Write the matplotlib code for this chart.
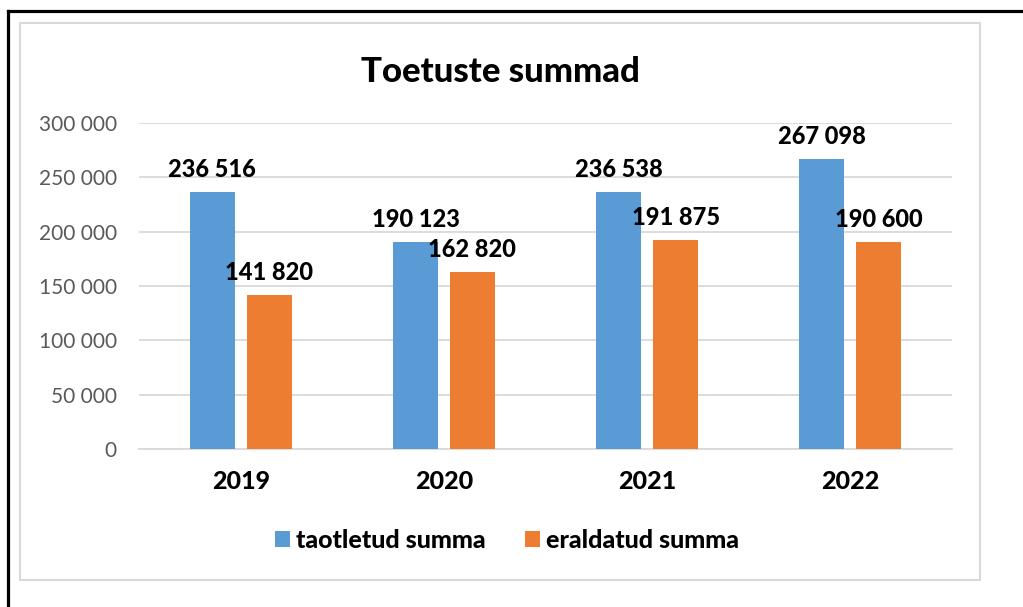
import numpy as np
import matplotlib
matplotlib.use("Agg")
import matplotlib.pyplot as plt
from matplotlib.lines import Line2D
from matplotlib.patches import Rectangle
from matplotlib.ticker import FuncFormatter

years = ["2019", "2020", "2021", "2022"]
requested = [236516, 190123, 236538, 267098]
granted = [141820, 162820, 191875, 190600]
series_names = ["taotletud summa", "eraldatud summa"]
title = "Toetuste summad"

BLUE = "#5B9BD5"
ORANGE = "#ED7D31"
GRID = "#D9D9D9"
HEAVY = "black"

plt.rcParams["font.family"] = ["Lato", "DejaVu Sans"]


def space_fmt(v, _pos=None):
    return f"{int(round(v)):,}".replace(",", " ")


fig = plt.figure(figsize=(10.23, 6.07), dpi=100)
ax = fig.add_axes([0.1359, 0.2603, 0.7947, 0.5371])

x = np.arange(len(years))
width = 0.221
gap = 0.059
off = (width + gap) / 2

b1 = ax.bar(x - off, requested, width, color=BLUE, label=series_names[0], zorder=3)
b2 = ax.bar(x + off, granted, width, color=ORANGE, label=series_names[1], zorder=3)

for bars in (b1, b2):
    for rect in bars:
        h = rect.get_height()
        ax.annotate(space_fmt(h), (rect.get_x() + rect.get_width() / 2, h),
                    xytext=(0, 8), textcoords="offset points",
                    ha="center", va="bottom", fontsize=17, fontweight=HEAVY)

ax.set_xlim(-0.5, len(years) - 0.5)
ax.set_ylim(0, 300000)
ax.set_yticks(np.arange(0, 300001, 50000))
ax.yaxis.set_major_formatter(FuncFormatter(space_fmt))
ax.set_xticks(x)
ax.set_xticklabels(years, fontsize=18, fontweight=HEAVY)
ax.tick_params(axis="y", length=0, labelsize=15, labelcolor="#595959", pad=16)
ax.tick_params(axis="x", length=0, pad=15)
ax.grid(axis="y", color=GRID, linewidth=1.3, zorder=0)
for side in ("top", "right", "left"):
    ax.spines[side].set_visible(False)
ax.spines["bottom"].set_color(GRID)
ax.spines["bottom"].set_linewidth(1.3)

fig.text(0.489, 0.881, title, ha="center", va="center", fontsize=25, fontweight=HEAVY)

leg = fig.legend(handles=[b1, b2], loc="center", bbox_to_anchor=(0.4955, 0.11), ncol=2,
                 frameon=False, handlelength=0.6, handleheight=0.6, handletextpad=0.25,
                 columnspacing=1.55, prop={"size": 18, "weight": HEAVY})

# light grey chart frame
fig.add_artist(Rectangle((0.0196, 0.0445), 0.9384, 0.9176, transform=fig.transFigure,
                         fill=False, edgecolor=GRID, linewidth=1.5))
# black page border (top and left)
fig.add_artist(Line2D([0.0083, 1.0], [0.9811, 0.9811], transform=fig.transFigure,
                      color="black", linewidth=2.3))
fig.add_artist(Line2D([0.0083, 0.0083], [0.0, 0.9811], transform=fig.transFigure,
                      color="black", linewidth=2.3))

fig.savefig("out.png", dpi=100, facecolor="white")
